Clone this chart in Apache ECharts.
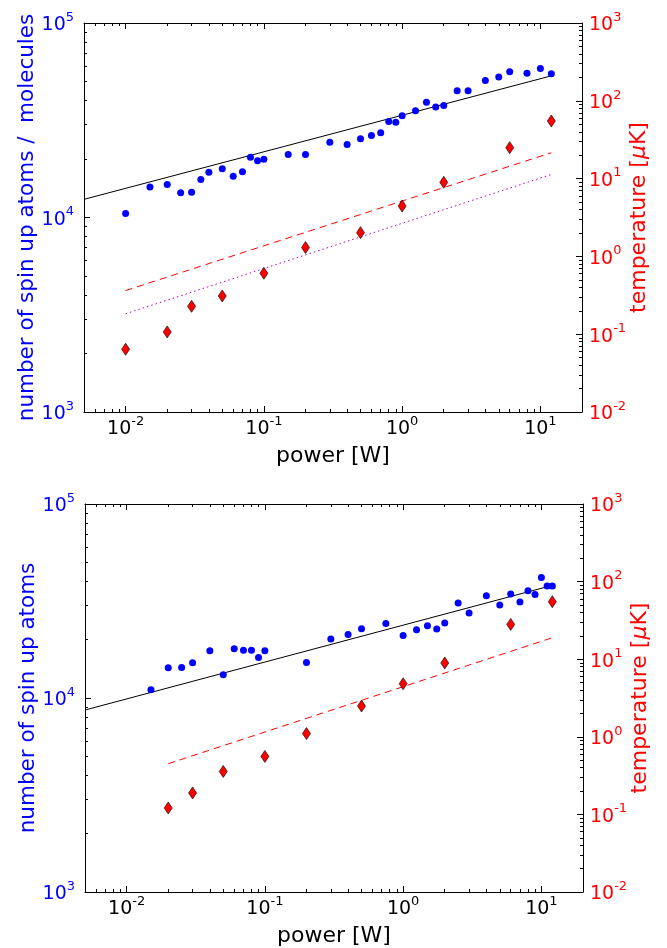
<!DOCTYPE html>
<html>
<head>
<meta charset="utf-8">
<script src="https://cdn.jsdelivr.net/npm/echarts@6/dist/echarts.min.js"></script>
<style>
html,body{margin:0;padding:0;background:#fff;}
#chart{width:667px;height:948px;}
</style>
</head>
<body>
<div id="chart"></div>
<script>
// ---------- data ----------
// top panel
const powerTop = [0.01,0.015,0.02,0.025,0.03,0.035,0.04,0.05,0.06,0.07,0.08,0.09,0.1,0.15,0.2,0.3,0.4,0.5,0.6,0.7,0.8,0.9,1.0,1.25,1.5,1.75,2.0,2.5,3.0,4.0,5.0,6.0,8.0,10,12];
const atomsTop = [10500,14350,14800,13400,13500,15700,17100,17800,16300,17200,20400,19600,19900,21100,21100,24400,23700,25400,26400,27300,31200,30900,33400,35400,39100,37000,37700,44900,44900,50600,52800,56200,55100,58300,54900];
const tempPowerTop = [0.01,0.02,0.03,0.05,0.1,0.2,0.5,1,2,6,12];
const tempTop = [0.064,0.107,0.228,0.31,0.607,1.30,2.02,4.44,8.96,25.0,55.0];
const fitPowerTop = [0.005,12];
const fitAtomsTop = [12400,53500];
const tempFitPowerTop = [0.01,12];
const tempFitDashedTop = [0.364,21.5];
const tempFitDottedTop = [0.183,11.3];
// bottom panel
const powerBot = [0.015,0.02,0.025,0.03,0.04,0.05,0.06,0.07,0.08,0.09,0.1,0.2,0.3,0.4,0.5,0.75,1.0,1.25,1.5,1.75,2.0,2.5,3.0,4.0,5.0,6.0,7.0,8.0,9.0,10,11,12];
const atomsBot = [11030,14330,14380,15200,17530,13190,17950,17600,17600,16190,17530,15260,20140,21270,22760,24240,21020,22490,23590,22690,24360,30880,27420,33680,30140,34360,31250,35730,34200,41840,37780,37780];
const tempPowerBot = [0.02,0.03,0.05,0.1,0.2,0.5,1,2,6,12];
const tempBot = [0.121,0.189,0.358,0.559,1.10,2.49,4.83,8.93,28.1,55.1];
const fitPowerBot = [0.005,12];
const fitAtomsBot = [8670,38060];
const tempFitPowerBot = [0.02,12];
const tempFitBot = [0.45,18.9];
// axis ranges and tick labels (powers of ten)
const xRange = [0.005,20];
const leftRange = [1e3,1e5];
const rightRange = [1e-2,1e3];
const xTickExps = [-2,-1,0,1];
const leftTickExps = [3,4,5];
const rightTickExps = [-2,-1,0,1,2,3];
const xTitle = 'power [W]';
const leftTitleTop = 'number of spin up atoms /  molecules';
const leftTitleBot = 'number of spin up atoms';
const rightTitle = 'temperature [{i|μ}K]';

// ---------- helpers ----------
const L = Math.log10;
const FONT = 'DejaVu Sans';
function minorTicks(lo, hi){
  const out=[];
  for(let n=Math.floor(lo)-1;n<=Math.ceil(hi);n++){
    for(let k=2;k<=9;k++){const v=n+L(k); if(v>lo && v<hi) out.push(v);}
  }
  return out;
}
function pairs(xs, ys){ return xs.map((x,i)=>[L(x), L(ys[i])]); }
function richFor(color){
  return {
    b:{fontSize:19,fontFamily:FONT,color:color,padding:[5,0,0,0]},
    s:{fontSize:13,fontFamily:FONT,color:color,verticalAlign:'top'}
  };
}
function powFmt(v){ return '{b|10}{s|' + Math.round(v) + '}'; }

const xMin=L(xRange[0]), xMax=L(xRange[1]);
const lMin=L(leftRange[0]), lMax=L(leftRange[1]);
const rMin=L(rightRange[0]), rMax=L(rightRange[1]);
const xMinor = minorTicks(xMin,xMax);
const lMinor = minorTicks(lMin,lMax);
const rMinor = minorTicks(rMin,rMax);

const grids = [
  {left:84, top:23, width:498, height:389},
  {left:85, top:504, width:498, height:388}
];

const xAxes=[], yAxes=[];
const lineStyle={color:'#000',width:1};
function hiddenLabel(){return {show:false};}
[0,1].forEach(g=>{
  // bottom major
  xAxes.push({type:'value',gridIndex:g,position:'bottom',min:xMin,max:xMax,
    axisLine:{show:true,onZero:false,lineStyle:lineStyle},
    axisTick:{show:true,inside:true,length:6,customValues:xTickExps,lineStyle:lineStyle},
    axisLabel:{show:true,customValues:xTickExps,formatter:powFmt,margin:3,rich:richFor('#000')},
    splitLine:{show:false},
    name:xTitle,nameLocation:'middle',nameGap:33,nameMoveOverlap:false,
    nameTextStyle:{fontSize:22,fontFamily:FONT,color:'#000'}});
  // bottom minor
  xAxes.push({type:'value',gridIndex:g,position:'bottom',min:xMin,max:xMax,
    axisLine:{show:false,onZero:false},
    axisTick:{show:true,inside:true,length:3,customValues:xMinor,lineStyle:lineStyle},
    axisLabel:hiddenLabel(),splitLine:{show:false}});
  // top major
  xAxes.push({type:'value',gridIndex:g,position:'top',min:xMin,max:xMax,
    axisLine:{show:true,onZero:false,lineStyle:lineStyle},
    axisTick:{show:true,inside:true,length:6,customValues:xTickExps,lineStyle:lineStyle},
    axisLabel:hiddenLabel(),splitLine:{show:false}});
  // top minor
  xAxes.push({type:'value',gridIndex:g,position:'top',min:xMin,max:xMax,
    axisLine:{show:false,onZero:false},
    axisTick:{show:true,inside:true,length:3,customValues:xMinor,lineStyle:lineStyle},
    axisLabel:hiddenLabel(),splitLine:{show:false}});
  // left major
  yAxes.push({type:'value',gridIndex:g,position:'left',min:lMin,max:lMax,
    axisLine:{show:true,onZero:false,lineStyle:lineStyle},
    axisTick:{show:true,inside:true,length:6,customValues:leftTickExps,lineStyle:lineStyle},
    axisLabel:{show:true,customValues:leftTickExps,formatter:powFmt,margin:10,rich:richFor('#0000ff')},
    splitLine:{show:false},
    name:g===0?leftTitleTop:leftTitleBot,nameLocation:'middle',nameGap:46,nameRotate:90,nameMoveOverlap:false,
    nameTextStyle:{fontSize:21.5,fontFamily:FONT,color:'#0000ff'}});
  // left minor
  yAxes.push({type:'value',gridIndex:g,position:'left',min:lMin,max:lMax,
    axisLine:{show:false,onZero:false},
    axisTick:{show:true,inside:true,length:3,customValues:lMinor,lineStyle:lineStyle},
    axisLabel:hiddenLabel(),splitLine:{show:false}});
  // right major
  yAxes.push({type:'value',gridIndex:g,position:'right',min:rMin,max:rMax,
    axisLine:{show:true,onZero:false,lineStyle:lineStyle},
    axisTick:{show:true,inside:true,length:6,customValues:rightTickExps,lineStyle:lineStyle},
    axisLabel:{show:true,customValues:rightTickExps,formatter:powFmt,margin:7,rich:richFor('#ff0000')},
    splitLine:{show:false},
    name:rightTitle,nameLocation:'middle',nameGap:46,nameRotate:90,nameMoveOverlap:false,
    nameTextStyle:{fontSize:22,fontFamily:FONT,color:'#ff0000',
      rich:{i:{fontSize:22,fontFamily:FONT,fontStyle:'italic',color:'#ff0000'}}}});
  // right minor
  yAxes.push({type:'value',gridIndex:g,position:'right',min:rMin,max:rMax,
    axisLine:{show:false,onZero:false},
    axisTick:{show:true,inside:true,length:3,customValues:rMinor,lineStyle:lineStyle},
    axisLabel:hiddenLabel(),splitLine:{show:false}});
});

function panelSeries(g, d){
  const xi=4*g, yl=4*g, yr=4*g+2;
  const s=[];
  s.push({type:'line',xAxisIndex:xi,yAxisIndex:yl,data:pairs(d.fitP,d.fitN),showSymbol:false,symbol:'none',
    lineStyle:{color:'#000',width:1},z:3,silent:true});
  d.tLines.forEach(tl=>{
    s.push({type:'line',xAxisIndex:xi,yAxisIndex:yr,data:pairs(tl.p,tl.t),showSymbol:false,symbol:'none',
      lineStyle:{color:tl.color,width:1,type:tl.dash},z:3,silent:true});
  });
  s.push({type:'scatter',xAxisIndex:xi,yAxisIndex:yl,data:pairs(d.p,d.n),symbol:'circle',symbolSize:7,
    itemStyle:{color:'#0000ff',opacity:1},z:4});
  s.push({type:'scatter',xAxisIndex:xi,yAxisIndex:yr,data:pairs(d.tp,d.t),symbol:'diamond',symbolSize:[8,12],
    itemStyle:{color:'#ff0000',borderColor:'#000',borderWidth:0.6,opacity:1},z:5});
  return s;
}

const series = [].concat(
  panelSeries(0,{p:powerTop,n:atomsTop,tp:tempPowerTop,t:tempTop,fitP:fitPowerTop,fitN:fitAtomsTop,
    tLines:[{p:tempFitPowerTop,t:tempFitDashedTop,color:'#ff0000',dash:[7,5]},
            {p:tempFitPowerTop,t:tempFitDottedTop,color:'#bf00bf',dash:[1.5,3]}]}),
  panelSeries(1,{p:powerBot,n:atomsBot,tp:tempPowerBot,t:tempBot,fitP:fitPowerBot,fitN:fitAtomsBot,
    tLines:[{p:tempFitPowerBot,t:tempFitBot,color:'#ff0000',dash:[7,5]}]})
);

const chart = echarts.init(document.getElementById('chart'), null, {renderer:'canvas'});
chart.setOption({
  animation:false,
  backgroundColor:'#fff',
  textStyle:{fontFamily:FONT},
  grid:grids,
  xAxis:xAxes,
  yAxis:yAxes,
  series:series
});
</script>
</body>
</html>
